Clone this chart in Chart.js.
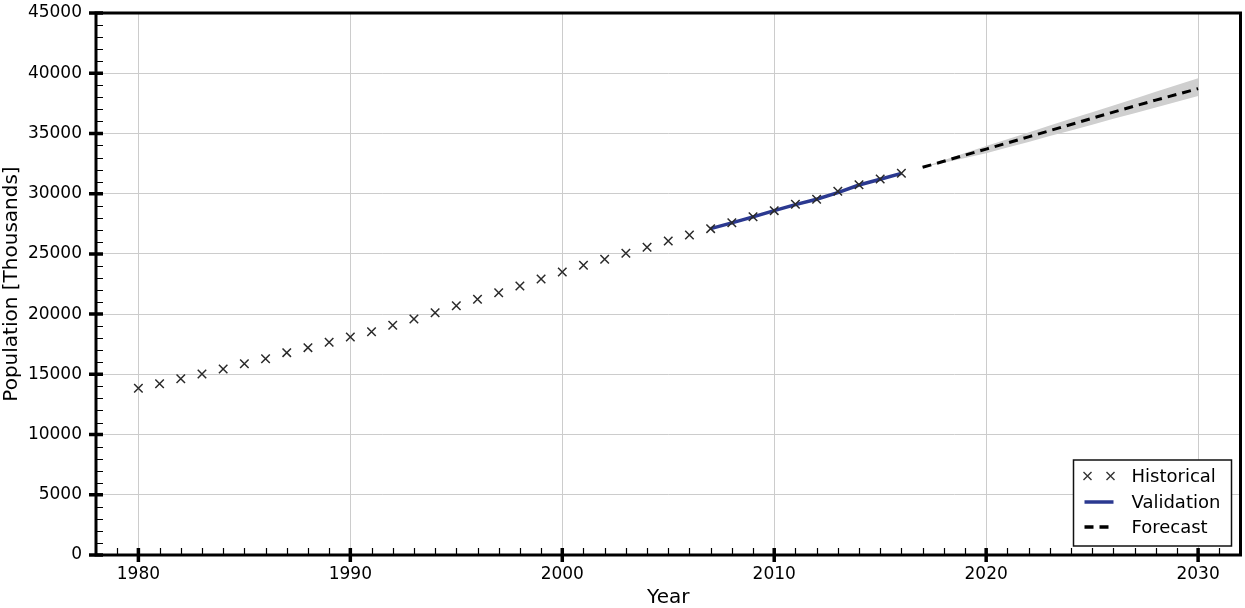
<!DOCTYPE html>
<html>
<head>
<meta charset="utf-8">
<script src="https://cdn.jsdelivr.net/npm/chart.js@4.4.0/dist/chart.umd.min.js"></script>
<style>
    body { margin: 0; background: #fff; overflow: hidden; }
    #wrap { width: 1245px; height: 608px; }
    canvas { display: block; }
</style>
</head>
<body>
<div id="wrap"><canvas id="chart" width="1245" height="608"></canvas></div>
<script>
// Data
const histYears = [1980,1981,1982,1983,1984,1985,1986,1987,1988,1989,
                   1990,1991,1992,1993,1994,1995,1996,1997,1998,1999,
                   2000,2001,2002,2003,2004,2005,2006,2007,2008,2009,
                   2010,2011,2012,2013,2014,2015,2016];
const histPop = [13840,14225,14640,15030,15445,15885,16300,16800,17215,17660,
                 18100,18540,19070,19595,20120,20700,21230,21780,22335,22915,
                 23500,24050,24550,25050,25550,26070,26570,27095,27590,28090,
                 28590,29115,29530,30195,30745,31220,31690];

const valYears = [2007,2008,2009,2010,2011,2012,2013,2014,2015,2016];
const valPop = [27095,27570,28070,28590,29090,29540,30080,30720,31200,31690];

const fcYears = [2017,2018,2019,2020,2021,2022,2023,2024,2025,2026,2027,2028,2029,2030];
const fcPop   = [32190,32690,33200,33700,34210,34720,35230,35740,36260,36770,37270,37770,38240,38720];
const fcUpper = [32190,32780,33370,33960,34520,35080,35650,36210,36770,37330,37890,38460,39020,39580];
const fcLower = [32190,32570,32960,33350,33830,34300,34780,35250,35730,36210,36680,37160,37630,38110];

const legendLabels = ["Historical", "Validation", "Forecast"];

const FONT = "'DejaVu Sans', sans-serif";
const BLUE = '#2b3990';

function toPoints(xs, ys) {
    return xs.map((x, i) => ({x: x, y: ys[i]}));
}

// Inward ticks, box spines and the in-plot legend
const axisDecor = {
    id: 'axisDecor',
    afterDraw(chart) {
        const ctx = chart.ctx;
        const a = chart.chartArea;
        const xs = chart.scales.x, ys = chart.scales.y;
        ctx.save();
        ctx.strokeStyle = '#000';

        // minor ticks
        ctx.lineWidth = 1.2;
        ctx.beginPath();
        for (let v = 1979; v <= 2031; v++) {
            if (v % 10 === 0) continue;
            const px = Math.round(xs.getPixelForValue(v)) + 0.5;
            ctx.moveTo(px, a.bottom);
            ctx.lineTo(px, a.bottom - 7);
        }
        for (let v = 1000; v < 45000; v += 1000) {
            if (v % 5000 === 0) continue;
            const py = Math.round(ys.getPixelForValue(v)) + 0.5;
            ctx.moveTo(a.left, py);
            ctx.lineTo(a.left + 7, py);
        }
        ctx.stroke();

        // major ticks
        ctx.lineWidth = 3.5;
        ctx.beginPath();
        for (let v = 1980; v <= 2030; v += 10) {
            const px = xs.getPixelForValue(v);
            ctx.moveTo(px, a.bottom - 7);
            ctx.lineTo(px, a.bottom + 7);
        }
        for (let v = 0; v <= 45000; v += 5000) {
            const py = ys.getPixelForValue(v);
            ctx.moveTo(a.left - 7, py);
            ctx.lineTo(a.left + 7, py);
        }
        ctx.stroke();

        // spines
        ctx.lineWidth = 3;
        ctx.strokeRect(a.left, a.top, a.right - a.left, a.bottom - a.top);

        // legend
        const bx = a.right - 167, by = a.bottom - 95, bw = 158, bh = 86;
        ctx.fillStyle = '#fff';
        ctx.fillRect(bx, by, bw, bh);
        ctx.lineWidth = 1.5;
        ctx.strokeStyle = '#111';
        ctx.strokeRect(bx, by, bw, bh);

        const rows = [by + 16, by + 42, by + 67];
        const x0 = bx + 11, x1 = bx + 40;

        // historical: two crosses
        ctx.strokeStyle = '#333';
        ctx.lineWidth = 1.4;
        [x0 + 3, x1 - 3].forEach(cx => {
            ctx.beginPath();
            ctx.moveTo(cx - 4, rows[0] - 4); ctx.lineTo(cx + 4, rows[0] + 4);
            ctx.moveTo(cx - 4, rows[0] + 4); ctx.lineTo(cx + 4, rows[0] - 4);
            ctx.stroke();
        });

        // validation
        ctx.strokeStyle = BLUE;
        ctx.lineWidth = 3.5;
        ctx.beginPath();
        ctx.moveTo(x0, rows[1]); ctx.lineTo(x1, rows[1]);
        ctx.stroke();

        // forecast
        ctx.strokeStyle = '#000';
        ctx.setLineDash([9, 6]);
        ctx.beginPath();
        ctx.moveTo(x0, rows[2]); ctx.lineTo(x1 + 1, rows[2]);
        ctx.stroke();
        ctx.setLineDash([]);

        ctx.fillStyle = '#000';
        ctx.font = '18px ' + FONT;
        ctx.textBaseline = 'middle';
        ctx.textAlign = 'left';
        legendLabels.forEach((t, i) => ctx.fillText(t, bx + 58, rows[i] + 1));

        ctx.restore();
    }
};

const ctx = document.getElementById('chart').getContext('2d');
const myChart = new Chart(ctx, {
    type: 'line',
    data: {
        datasets: [{
            label: legendLabels[0],
            data: toPoints(histYears, histPop),
            showLine: false,
            pointStyle: 'crossRot',
            pointRadius: 6,
            pointBorderColor: '#2a2a2a',
            pointBorderWidth: 1.5,
            borderColor: '#2a2a2a',
            order: 0
        }, {
            label: legendLabels[1],
            data: toPoints(valYears, valPop),
            borderColor: BLUE,
            borderWidth: 3.5,
            pointRadius: 0,
            fill: false,
            order: 1
        }, {
            label: legendLabels[2],
            data: toPoints(fcYears, fcPop),
            borderColor: '#000',
            borderWidth: 3,
            borderDash: [9, 6],
            pointRadius: 0,
            fill: false,
            order: 2
        }, {
            label: 'upper',
            data: toPoints(fcYears, fcUpper),
            borderWidth: 0,
            borderColor: 'rgba(0,0,0,0)',
            backgroundColor: '#cfcfcf',
            pointRadius: 0,
            fill: '+1',
            order: 3
        }, {
            label: 'lower',
            data: toPoints(fcYears, fcLower),
            borderWidth: 0,
            borderColor: 'rgba(0,0,0,0)',
            pointRadius: 0,
            fill: false,
            order: 4
        }]
    },
    options: {
        responsive: false,
        animation: false,
        layout: { autoPadding: false, padding: { left: 0, right: 4.5, top: 13, bottom: 0 } },
        plugins: {
            legend: { display: false },
            tooltip: { enabled: false }
        },
        scales: {
            x: {
                type: 'linear',
                min: 1978,
                max: 2032,
                afterFit: s => { s.height = 53; s.paddingLeft = 0; s.paddingRight = 0; },
                grid: { color: '#cccccc', lineWidth: 1, drawTicks: false },
                border: { display: false },
                ticks: {
                    stepSize: 10,
                    includeBounds: false,
                    padding: 9,
                    color: '#000',
                    font: { family: FONT, size: 17 },
                    callback: v => String(v)
                },
                title: {
                    display: true,
                    text: 'Year',
                    color: '#000',
                    font: { family: FONT, size: 20, lineHeight: 1 },
                    padding: { top: 0, bottom: 0 }
                }
            },
            y: {
                type: 'linear',
                min: 0,
                max: 45000,
                afterFit: s => { s.width = 96; s.paddingTop = 0; s.paddingBottom = 0; },
                grid: { color: '#cccccc', lineWidth: 1, drawTicks: false },
                border: { display: false },
                ticks: {
                    stepSize: 5000,
                    padding: 14,
                    color: '#000',
                    font: { family: FONT, size: 17 },
                    callback: v => String(v)
                },
                title: {
                    display: true,
                    text: 'Population [Thousands]',
                    color: '#000',
                    font: { family: FONT, size: 20, lineHeight: 1 },
                    padding: { top: 2, bottom: 0 }
                }
            }
        }
    },
    plugins: [axisDecor]
});
</script>
</body>
</html>
